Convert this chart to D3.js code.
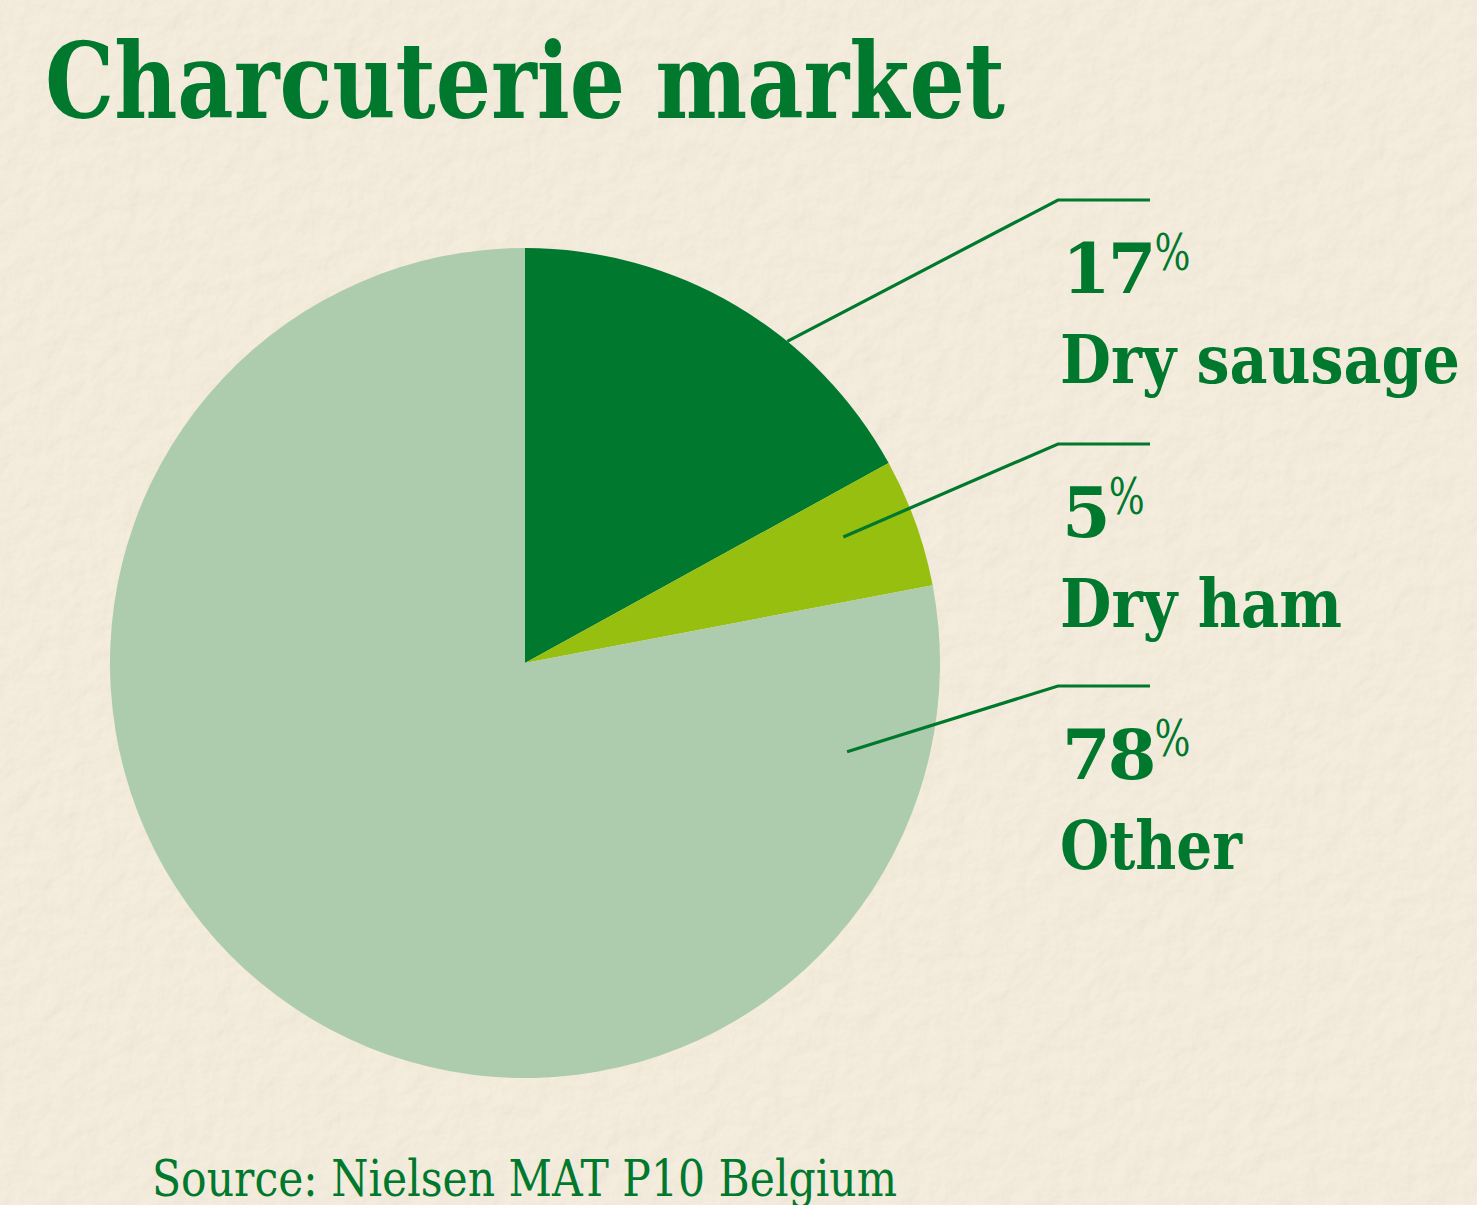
<!DOCTYPE html>
<html>
<head>
<meta charset="utf-8">
<script src="https://cdn.jsdelivr.net/npm/d3@7"></script>
<style>
  html, body { margin: 0; padding: 0; background: #f4ecdc; }
  svg { display: block; }
</style>
</head>
<body>
<div id="chart"></div>
<script>
// data
const categories = ["Dry sausage", "Dry ham", "Other"];
const shares = [17, 5, 78];
const colours = ["#00782d", "#97bf0f", "#adcbad"];

const titleText = "Charcuterie market";
const sourceText = "Source: Nielsen MAT P10 Belgium";

// svg size
const c_width = 1477;
const c_height = 1205;
const green = "#00782d";

const svg = d3.select("#chart")
              .append("svg")
              .attr("width", c_width)
              .attr("height", c_height);

// paper background with a bit of grain
const defs = svg.append("defs");
const paper = defs.append("filter")
                  .attr("id", "paper")
                  .attr("x", 0).attr("y", 0)
                  .attr("width", "100%").attr("height", "100%");
paper.append("feTurbulence")
     .attr("type", "fractalNoise")
     .attr("baseFrequency", 0.045)
     .attr("numOctaves", 4)
     .attr("seed", 7)
     .attr("result", "noise");
paper.append("feDiffuseLighting")
     .attr("in", "noise")
     .attr("lighting-color", "#fdf5e6")
     .attr("surfaceScale", 1.6)
     .append("feDistantLight")
     .attr("azimuth", 45)
     .attr("elevation", 62);

svg.append("rect")
   .attr("width", c_width)
   .attr("height", c_height)
   .attr("fill", "#f4ecdc");
svg.append("rect")
   .attr("width", c_width)
   .attr("height", c_height)
   .attr("filter", "url(#paper)")
   .attr("opacity", 0.3);

// title
svg.append("text")
   .attr("x", 45)
   .attr("y", 118)
   .attr("font-family", "DejaVu Serif")
   .attr("font-weight", "bold")
   .attr("font-size", 104)
   .attr("fill", green)
   .attr("textLength", 960)
   .attr("lengthAdjust", "spacingAndGlyphs")
   .text(titleText);

// pie
const cx = 525, cy = 663, radius = 415;

const pie = d3.pie().sort(null).value(d => d.value);
const arc = d3.arc().innerRadius(0).outerRadius(radius);

const data = categories.map((c, i) => ({ name: c, value: shares[i], colour: colours[i] }));
const arcs = pie(data);

const g = svg.append("g").attr("transform", "translate(" + cx + "," + cy + ")");

g.selectAll("path")
 .data(arcs)
 .enter()
 .append("path")
 .attr("d", arc)
 .attr("fill", d => d.data.colour);

// leader lines: where they start (angle in degrees, radius fraction) and label row
const leaders = [
  { angle: 39.2, r: 1.0,  y: 200 },
  { angle: 68.4, r: 0.825, y: 444 },
  { angle: 105.4, r: 0.805, y: 686 }
];
const elbowX = 1058, lineEnd = 1150;
const nameWidths = [400, 282, 182];

arcs.forEach((a, i) => {
  const l = leaders[i];
  const ang = l.angle * Math.PI / 180;
  const x0 = cx + Math.sin(ang) * radius * l.r;
  const y0 = cy - Math.cos(ang) * radius * l.r;

  svg.append("polyline")
     .attr("points", [[x0, y0], [elbowX, l.y], [lineEnd, l.y]].map(p => p.join(",")).join(" "))
     .attr("fill", "none")
     .attr("stroke", green)
     .attr("stroke-width", 3.2);

  // percentage
  const pct = svg.append("text")
     .attr("x", 1062)
     .attr("y", l.y + 93)
     .attr("font-family", "DejaVu Serif")
     .attr("font-weight", "bold")
     .attr("font-size", 70)
     .attr("fill", green)
     .attr("letter-spacing", -3)
     .text(a.data.value);
  const w = pct.node().getComputedTextLength();

  svg.append("text")
     .attr("x", 1062 + w + 1)
     .attr("y", l.y + 70)
     .attr("font-family", "DejaVu Serif")
     .attr("font-size", 50)
     .attr("fill", green)
     .attr("textLength", 36)
     .attr("lengthAdjust", "spacingAndGlyphs")
     .text("%");

  // category name
  svg.append("text")
     .attr("x", 1060)
     .attr("y", l.y + 183)
     .attr("font-family", "DejaVu Serif")
     .attr("font-weight", "bold")
     .attr("font-size", 68)
     .attr("fill", green)
     .attr("textLength", nameWidths[i])
     .attr("lengthAdjust", "spacingAndGlyphs")
     .text(a.data.name);
});

// source
svg.append("text")
   .attr("x", 152)
   .attr("y", 1196)
   .attr("font-family", "DejaVu Serif")
   .attr("font-size", 50)
   .attr("fill", green)
   .attr("textLength", 745)
   .attr("lengthAdjust", "spacingAndGlyphs")
   .text(sourceText);
</script>
</body>
</html>
